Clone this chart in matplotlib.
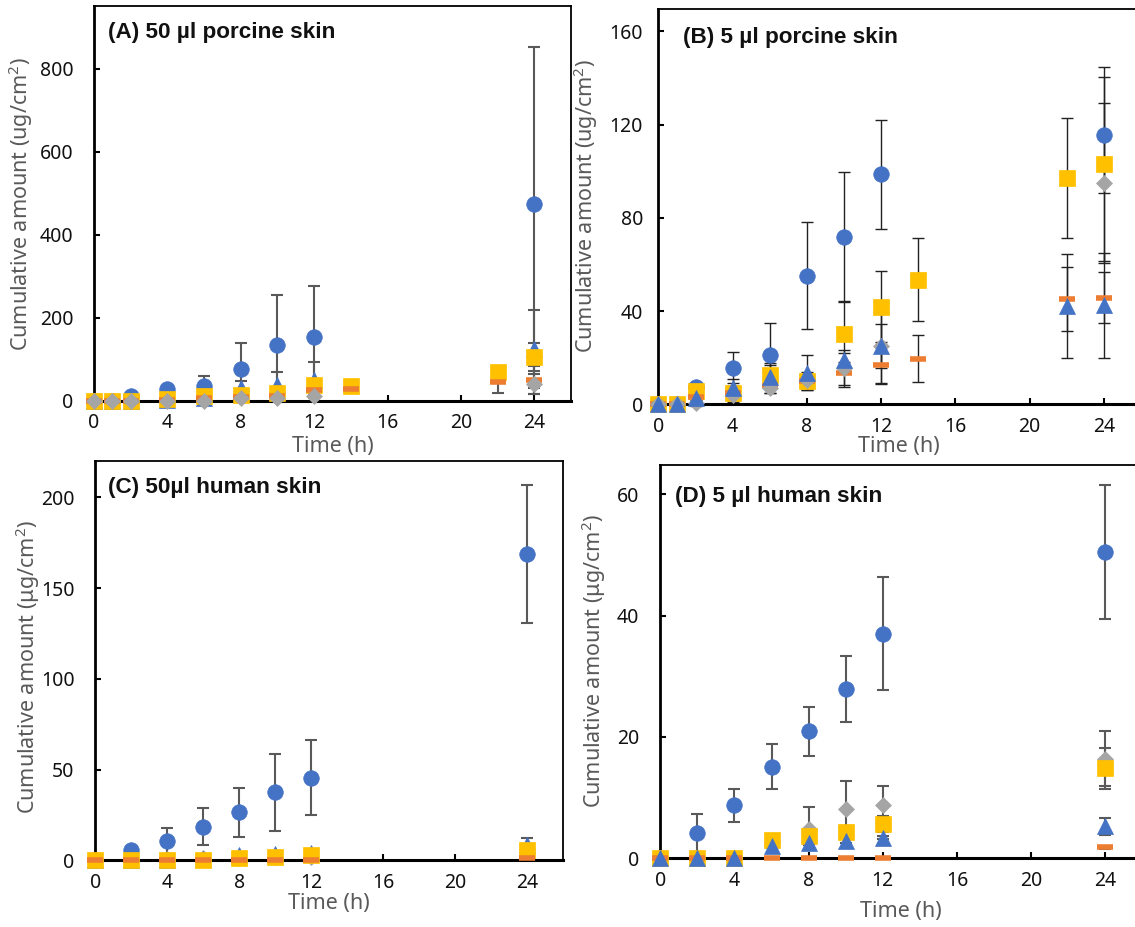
import numpy as np
import matplotlib
matplotlib.use("Agg")
import matplotlib.pyplot as plt

plt.rcParams['font.family'] = ['Noto Sans', 'DejaVu Sans']
plt.rcParams['mathtext.fontset'] = 'custom'
plt.rcParams['mathtext.rm'] = 'Noto Sans'
plt.rcParams['mathtext.it'] = 'Noto Sans:italic'

nan = np.nan

# ---- (A) 50 ul porcine skin ----
tA = [0, 1, 2, 4, 6, 8, 10, 12, 14, 22, 24]
A_circle = [0, 0, 10, 28, 36, 77, 135, 153, nan, nan, 474]
A_circle_err = [0, 0, 2, 8, 23, 62, 119, 123, nan, nan, 378]
A_tri = [0, 0, 0, 2, 5, 30, 38, 50, nan, nan, 125]
A_tri_err = [0, 0, 0, 1, 3, 18, 30, 42, nan, nan, 94]
A_square = [0, 0, 0, 4, 10, 14, 18, 38, 34, 68, 105]
A_square_err = [0, 0, 0, 2, 3, 5, 6, 10, 8, 10, 34]
A_orange = [0, 0, 0, 2, 6, 8, 12, 25, 28, 45, 50]
A_orange_err = [0, 0, 0, 1, 2, 3, 5, 8, 6, 27, 34]
A_diamond = [0, 0, 0, 0, 0, 6, 6, 10, nan, nan, 40]
A_diamond_err = [0, 0, 0, 0, 1, 2, 3, 4, nan, nan, 24]

# ---- (B) 5 ul porcine skin ----
tB = [0, 1, 2, 4, 6, 8, 10, 12, 14, 22, 24]
B_circle = [0, 0, 7.6, 15.7, 21.2, 55.2, 72, 98.7, nan, nan, 115.6]
B_circle_err = [0, 0, 1, 6.6, 13.6, 23, 27.6, 23.5, nan, nan, 25]
B_square = [0, 0, 5.9, 5, 12.6, 10, 30.2, 41.8, 53.4, 97, 103.2]
B_square_err = [0, 0, 1, 3, 5, 4, 13.6, 15.2, 17.8, 25.7, 41.6]
B_orange = [0, 0, 3, 5, 7.9, 10, 13.3, 16.9, 19.6, 45.1, 45.8]
B_orange_err = [0, 0, 1, 3, 3, 3, 5, 8, 10.2, 13.8, 11]
B_diamond = [0, 0, 0.4, 4, 6.9, 10.4, 15.5, 25, nan, nan, 94.9]
B_diamond_err = [0, 0, 1, 3, 2, 1, 8, 16, nan, nan, 34.2]
B_tri = [0, 0, 2.6, 6.9, 11.9, 13.6, 19, 25, nan, 42.2, 42.5]
B_tri_err = [0, 0, 1, 4, 5, 7.6, 3, 9.5, nan, 22.5, 22.5]

# ---- (C) 50 ul human skin ----
tC = [0, 2, 4, 6, 8, 10, 12, 24]
C_circle = [0, 5.7, 10.7, 18.6, 26.5, 37.5, 45.6, 168.8]
C_circle_err = [0, 1, 7.3, 10.4, 13.5, 21.1, 20.9, 38.2]
C_diamond = [0, 0, 0.5, 1, 1.5, 2, 2, 6]
C_diamond_err = [0, 0, 0.5, 0.5, 0.5, 0.5, 0.5, 1]
C_tri = [0, 0, 0, 0.5, 3, 3.5, 4, 8.5]
C_tri_err = [0, 0, 0, 0, 0.5, 0.5, 0.5, 4]
C_square = [0, 0, 0, 0, 1.1, 2, 2.9, 5.7]
C_square_err = [0, 0, 0, 0, 0.3, 0.5, 0.5, 1]
C_orange = [0, 0, 0, 0, 0, 0, 0, 1.1]
C_orange_err = [0, 0, 0, 0, 0, 0, 0, 0.3]

# ---- (D) 5 ul human skin ----
tD = [0, 2, 4, 6, 8, 10, 12, 24]
D_circle = [0, 4.2, 8.7, 15.1, 20.9, 27.9, 37, 50.5]
D_circle_err = [0, 3.1, 2.7, 3.7, 4.1, 5.5, 9.3, 11]
D_diamond = [0, 0, 0, 2.7, 4.9, 8.1, 8.8, 16.4]
D_diamond_err = [0, 0, 0, 1, 3.5, 4.6, 3.1, 4.5]
D_square = [0, 0, 0, 3, 3.7, 4.4, 5.6, 14.8]
D_square_err = [0, 0, 0, 0.5, 0.5, 1, 1.3, 3.4]
D_orange = [0, 0, 0, 0, 0, 0, 0, 1.8]
D_orange_err = [0, 0, 0, 0, 0, 0, 0, 0.2]
D_tri = [0, 0, 0, 2.1, 2.5, 2.9, 3.4, 5.3]
D_tri_err = [0, 0, 0, 0.3, 0.3, 0.3, 0.3, 1.4]

BLUE = '#4472C4'
ORANGE = '#ED7D31'
GRAY = '#A5A5A5'
YELLOW = '#FFC000'

styles = {
    'circle': dict(marker='o', color=BLUE, ms=11.2),
    'tri': dict(marker='^', color=BLUE, ms=11),
    'square': dict(marker='s', color=YELLOW, ms=11),
    'orange': dict(marker='_', color=ORANGE, ms=11, mew=4),
    'diamond': dict(marker='D', color=GRAY, ms=8.5),
}


def draw_series(ax, t, y, err, kind, z, ecolor, elw, cap):
    st = styles[kind]
    ax.errorbar(t, y, yerr=err, fmt='none', ecolor=ecolor, elinewidth=elw,
                capsize=cap, capthick=elw, zorder=2, clip_on=False)
    ax.plot(t, y, linestyle='none', marker=st['marker'], ms=st['ms'],
            mfc=st['color'], mec=st['color'], mew=st.get('mew', 0.5),
            zorder=z, clip_on=False)


def style_axes(ax, ylim, yticks, ypad=14):
    ax.set_xlim(0, 26)
    ax.set_ylim(*ylim)
    ax.set_xticks(range(0, 25, 4))
    ax.set_yticks(yticks)
    ax.tick_params(direction='in', length=4, width=1.5, labelsize=14,
                   labelcolor='#111111')
    ax.tick_params(axis='x', pad=9)
    ax.tick_params(axis='y', pad=ypad)
    ax.spines['left'].set_linewidth(2.0)
    ax.spines['bottom'].set_linewidth(2.2)
    ax.spines['top'].set_linewidth(1.3)
    ax.spines['right'].set_linewidth(1.3)


fig = plt.figure(figsize=(11.35, 9.27), dpi=100)
W, H = 1135.0, 927.0


def make_axes(x0, ytop, x1, ybot):
    return fig.add_axes([x0 / W, 1 - ybot / H, (x1 - x0) / W, (ybot - ytop) / H])


axA = make_axes(94, 6, 571, 400.5)
axB = make_axes(658.4, 9.3, 658.4 + 26 * 18.56, 404.3)
axC = make_axes(95.3, 461, 563, 860.3)
axD = make_axes(660.2, 465, 660.2 + 26 * 18.55, 858.3)

eg = '#595959'
# A
draw_series(axA, tA, A_circle, A_circle_err, 'circle', 3, eg, 1.5, 4)
draw_series(axA, tA, A_tri, A_tri_err, 'tri', 4, eg, 1.5, 4)
draw_series(axA, tA, A_square, A_square_err, 'square', 5, eg, 1.5, 4)
draw_series(axA, tA, A_orange, A_orange_err, 'orange', 6, eg, 1.5, 4)
draw_series(axA, tA, A_diamond, A_diamond_err, 'diamond', 7, eg, 1.5, 4)
style_axes(axA, (0, 952), [0, 200, 400, 600, 800], ypad=15)

# B
eb = '#222222'
draw_series(axB, tB, B_circle, B_circle_err, 'circle', 3, eb, 1.0, 4)
draw_series(axB, tB, B_square, B_square_err, 'square', 4, eb, 1.0, 4)
draw_series(axB, tB, B_orange, B_orange_err, 'orange', 5, eb, 1.0, 4)
draw_series(axB, tB, B_diamond, B_diamond_err, 'diamond', 6, eb, 1.0, 4)
draw_series(axB, tB, B_tri, B_tri_err, 'tri', 7, eb, 1.0, 4)
style_axes(axB, (0, 169.5), [0, 40, 80, 120, 160], ypad=11)

# C
draw_series(axC, tC, C_circle, C_circle_err, 'circle', 3, eg, 1.5, 4)
draw_series(axC, tC, C_diamond, C_diamond_err, 'diamond', 4, eg, 1.5, 4)
draw_series(axC, tC, C_tri, C_tri_err, 'tri', 5, eg, 1.5, 4)
draw_series(axC, tC, C_square, C_square_err, 'square', 6, eg, 1.5, 4)
draw_series(axC, tC, C_orange, C_orange_err, 'orange', 7, eg, 1.5, 4)
style_axes(axC, (0, 220), [0, 50, 100, 150, 200], ypad=15)

# D
draw_series(axD, tD, D_circle, D_circle_err, 'circle', 3, eg, 1.5, 4)
draw_series(axD, tD, D_diamond, D_diamond_err, 'diamond', 4, eg, 1.5, 4)
draw_series(axD, tD, D_square, D_square_err, 'square', 5, eg, 1.5, 4)
draw_series(axD, tD, D_orange, D_orange_err, 'orange', 6, eg, 1.5, 4)
draw_series(axD, tD, D_tri, D_tri_err, 'tri', 7, eg, 1.5, 4)
style_axes(axD, (0, 64.8), [0, 20, 40, 60], ypad=15)

# panel titles
title_kw = dict(fontsize=16.2, fontweight='bold', color='#111111', va='center',
                ha='left', family=['Liberation Sans', 'DejaVu Sans'])
fig.text(108 / W, 1 - 32.7 / H, '(A) 50 µl porcine skin', **title_kw)
fig.text(682.7 / W, 1 - 37.3 / H, '(B) 5 µl porcine skin', **title_kw)
fig.text(108.4 / W, 1 - 487 / H, '(C) 50µl human skin', **title_kw)
fig.text(674.7 / W, 1 - 496.7 / H, '(D) 5 µl human skin', **title_kw)

# axis labels
lab_kw = dict(fontsize=15.5, color='#595959', ha='center', va='center')
fig.text(21 / W, 1 - 204 / H, 'Cumulative amount (ug/cm$^2$)', rotation=90, **lab_kw)
fig.text(586 / W, 1 - 206 / H, 'Cumulative amount (ug/cm$^2$)', rotation=90, **lab_kw)
fig.text(28 / W, 1 - 667 / H, 'Cumulative amount (μg/cm$^2$)', rotation=90, **lab_kw)
fig.text(594 / W, 1 - 661 / H, 'Cumulative amount (μg/cm$^2$)', rotation=90, **lab_kw)
fig.text(333 / W, 1 - 446.7 / H, 'Time (h)', **lab_kw)
fig.text(899 / W, 1 - 447 / H, 'Time (h)', **lab_kw)
fig.text(329 / W, 1 - 903 / H, 'Time (h)', **lab_kw)
fig.text(901 / W, 1 - 911.7 / H, 'Time (h)', **lab_kw)

fig.savefig('out.png', dpi=100)
